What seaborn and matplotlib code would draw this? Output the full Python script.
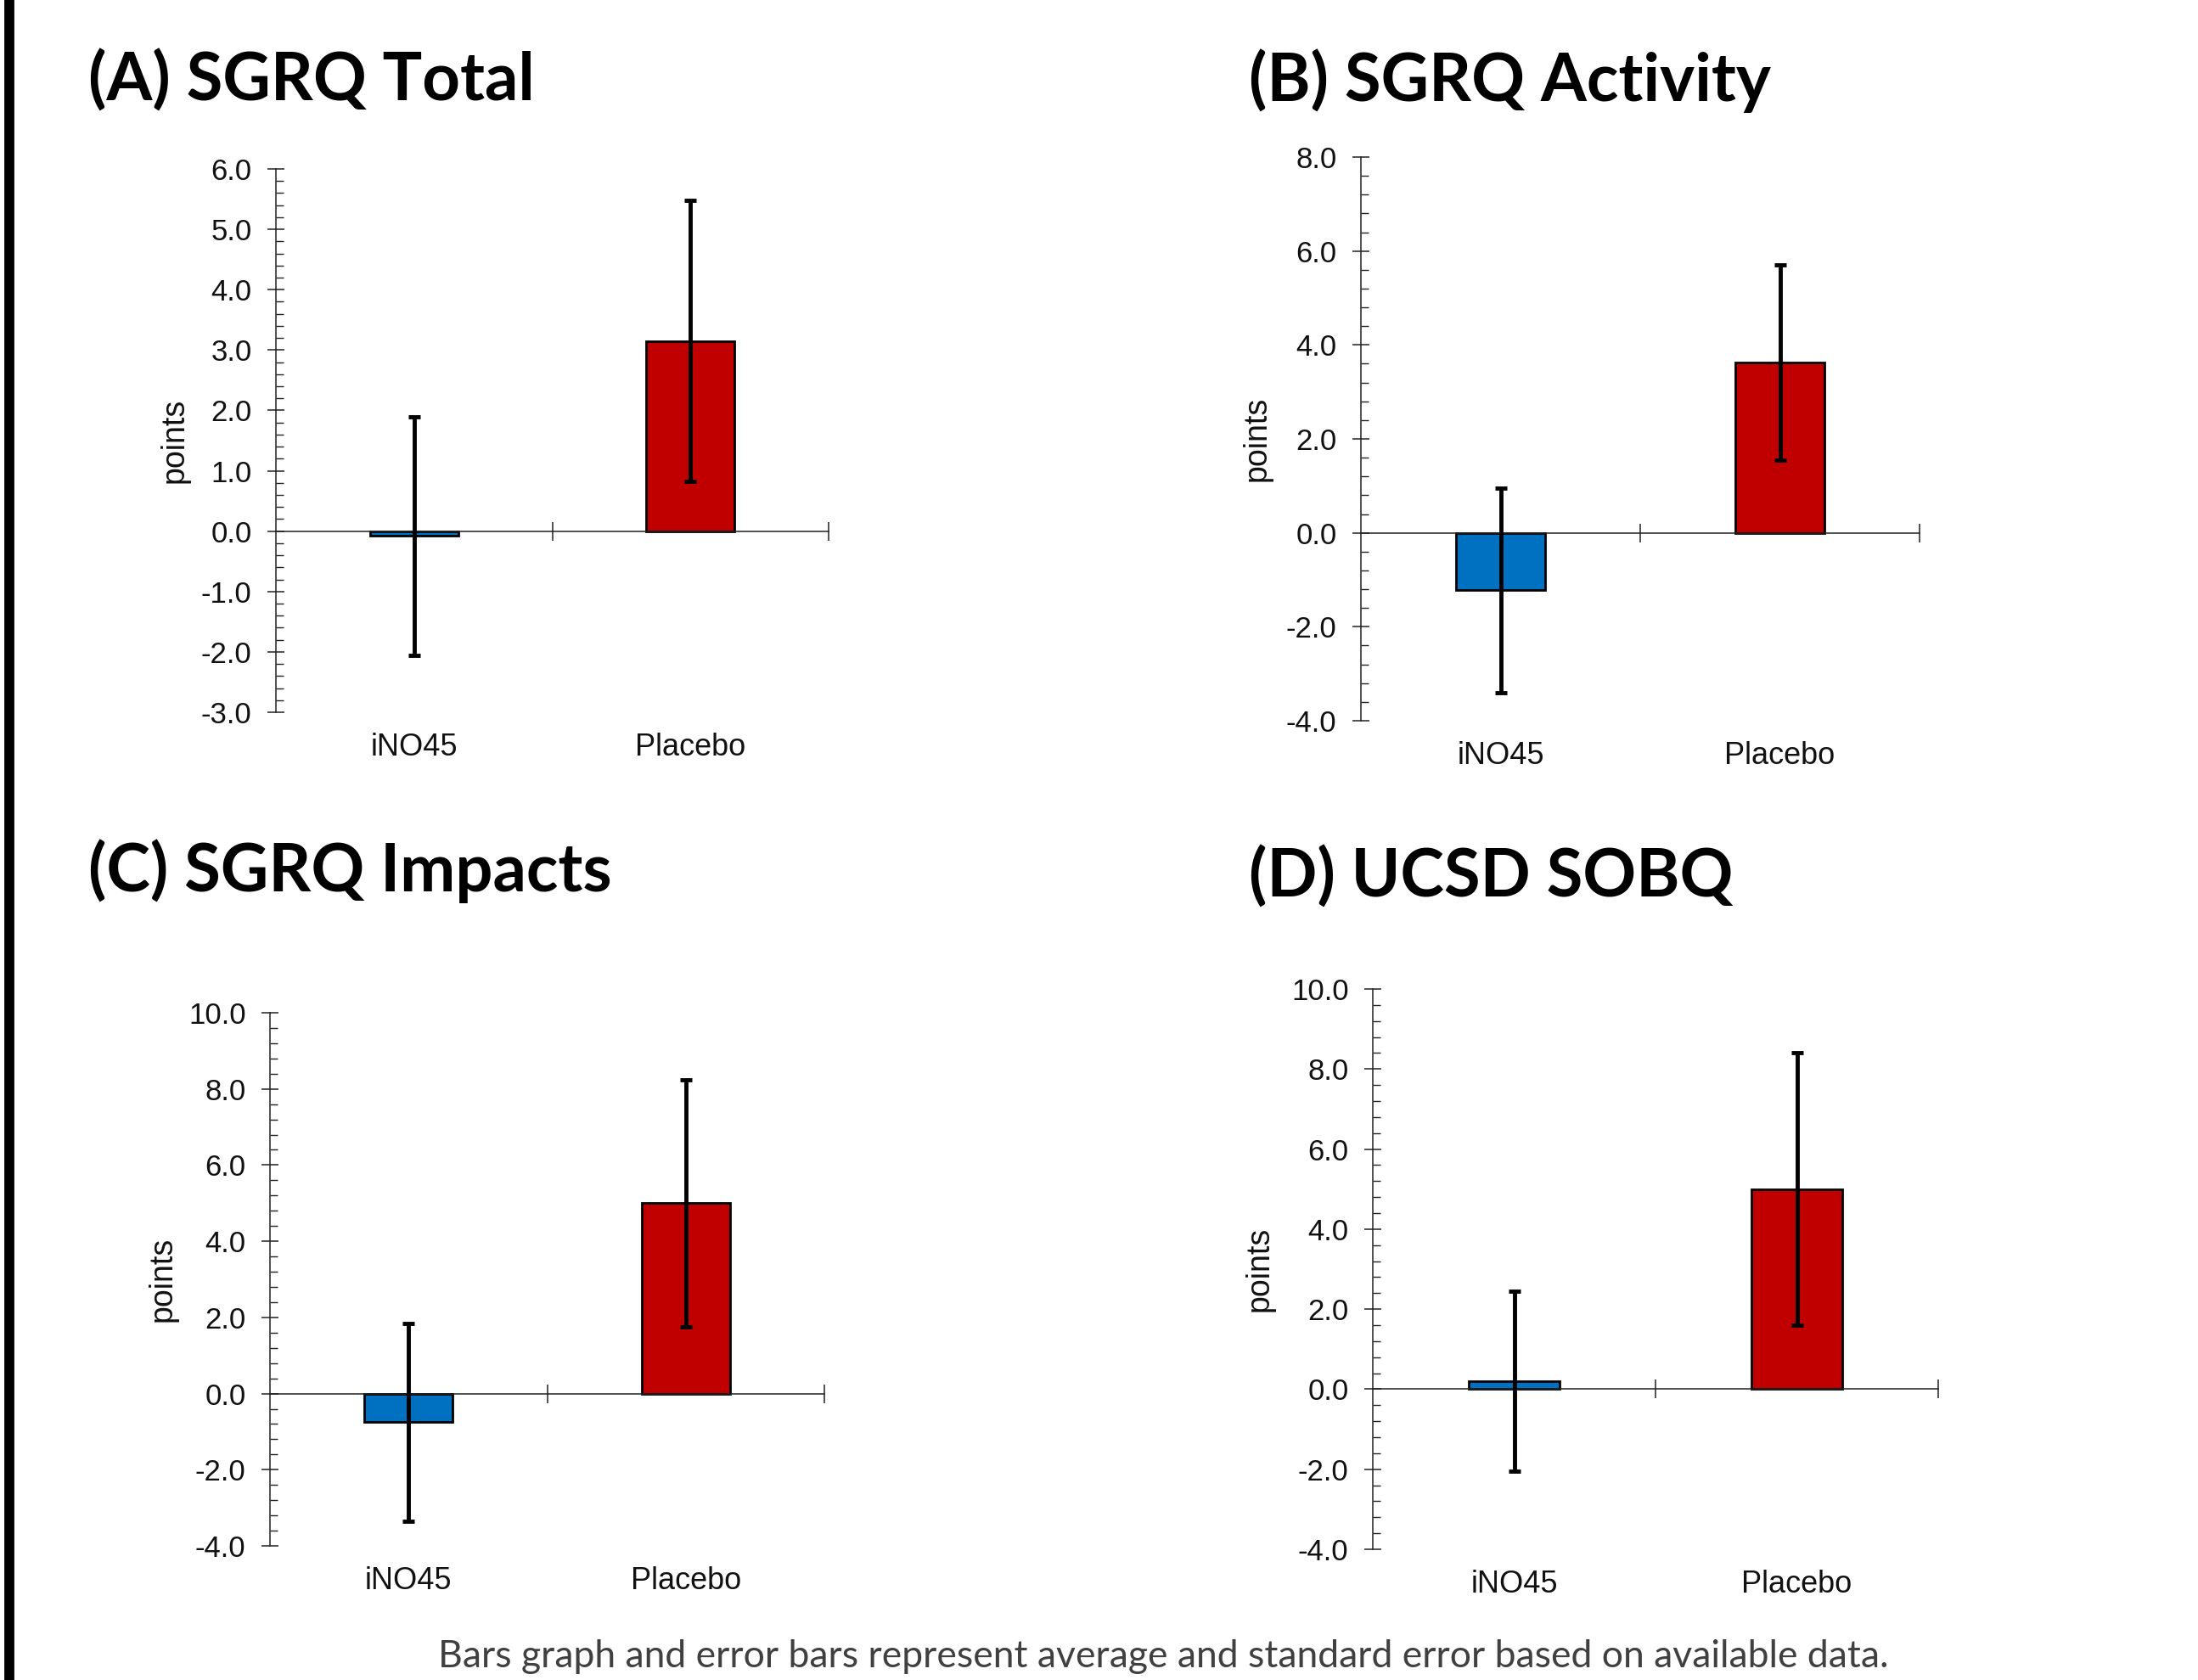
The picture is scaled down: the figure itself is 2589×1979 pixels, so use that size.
import numpy as np
import matplotlib
matplotlib.use('Agg')
import matplotlib.pyplot as plt
from matplotlib.lines import Line2D
from matplotlib.ticker import AutoMinorLocator, FormatStrFormatter
import seaborn as sns

# data (change from baseline, points)
groups = ['iNO45', 'Placebo']
titles = ['(A) SGRQ Total', '(B) SGRQ Activity', '(C) SGRQ Impacts', '(D) UCSD SOBQ']
means_a = [-0.08, 3.15]
se_a = [1.98, 2.33]
means_b = [-1.22, 3.63]
se_b = [2.18, 2.08]
means_c = [-0.75, 5.00]
se_c = [2.60, 3.24]
means_d = [0.20, 5.00]
se_d = [2.24, 3.40]
ylims = [(-3, 6, 1.0), (-4, 8, 2.0), (-4, 10, 2.0), (-4, 10, 2.0)]
footnote = 'Bars graph and error bars represent average and standard error based on available data.'

bar_colors = ['#0070C0', '#C00000']

W, H = 2589, 1979
# axes boxes in pixels: left, top, right, bottom
boxes = [(325, 199, 976, 839), (1603, 185, 2261, 849),
         (318, 1193, 971, 1821), (1617, 1165, 2283, 1825)]
title_pos = [(104, 119), (1471, 119), (104, 1050), (1471, 1057)]
ylabel_off = [-119, -122, -126, -133]

sns.set_theme(style='white')
plt.rcParams['font.family'] = ['Liberation Sans', 'DejaVu Sans']
plt.rcParams['axes.unicode_minus'] = False

fig = plt.figure(figsize=(W / 100, H / 100), dpi=100)
fig.patch.set_facecolor('white')

all_means = [means_a, means_b, means_c, means_d]
all_se = [se_a, se_b, se_c, se_d]

for i in range(4):
    l, t, r, b = boxes[i]
    ax = fig.add_axes([l / W, 1 - b / H, (r - l) / W, (b - t) / H])
    ax.set_facecolor('none')

    sns.barplot(x=groups, y=all_means[i], hue=groups, palette=bar_colors, legend=False,
                width=0.32, edgecolor='black', linewidth=2.0, saturation=1, ax=ax, zorder=2)
    ax.errorbar(x=np.arange(len(groups)), y=all_means[i], yerr=all_se[i], fmt='none',
                ecolor='black', elinewidth=3.5, capsize=4.7, capthick=3.5, zorder=3)

    lo, hi, step = ylims[i]
    ax.set_xlim(-0.5, 1.5)
    ax.set_ylim(lo, hi)
    ax.set_yticks(np.arange(lo, hi + step / 2, step))
    ax.yaxis.set_major_formatter(FormatStrFormatter('%.1f'))
    ax.yaxis.set_minor_locator(AutoMinorLocator(5))

    for s in ['top', 'right']:
        ax.spines[s].set_visible(False)
    ax.spines['left'].set_color('#222222')
    ax.spines['left'].set_linewidth(1.1)
    ax.spines['bottom'].set_position(('data', 0))
    ax.spines['bottom'].set_color('#222222')
    ax.spines['bottom'].set_linewidth(1.1)

    ax.tick_params(axis='y', which='major', direction='inout', length=15, width=1.1,
                   color='#222222', labelsize=25, pad=13, labelcolor='#111111', left=True)
    ax.tick_params(axis='y', which='minor', direction='in', length=6.5, width=1.0,
                   color='#222222', left=True)
    ax.set_xticks([0.5, 1.5])
    ax.tick_params(axis='x', which='major', direction='inout', length=16, width=1.1,
                   color='#222222', labelbottom=False, bottom=True)
    ax.set_xlabel('')

    for k, g in enumerate(groups):
        ax.annotate(g, xy=(k, 0), xycoords=('data', 'axes fraction'), xytext=(0, -30),
                    textcoords='offset points', ha='center', va='center',
                    fontsize=26, color='#111111')

    ax.set_ylabel('points', fontsize=27, color='#111111', va='center')
    ax.yaxis.set_label_coords(ylabel_off[i] / (r - l), 0.5)

    tx, ty = title_pos[i]
    fig.text(tx / W, 1 - ty / H, titles[i], ha='left', va='baseline',
             fontsize=56, fontweight='bold', family=['Lato', 'DejaVu Sans'], color='black')

fig.text(1370 / W, 1 - 1951 / H, footnote, ha='center', va='center', fontsize=32,
         family=['Lato', 'DejaVu Sans'], color='#404040')

# black rule on the left edge
fig.add_artist(Line2D([11 / W, 11 / W], [0, 1], color='black', linewidth=8.5,
                      transform=fig.transFigure))

fig.savefig('out.png', dpi=100)
